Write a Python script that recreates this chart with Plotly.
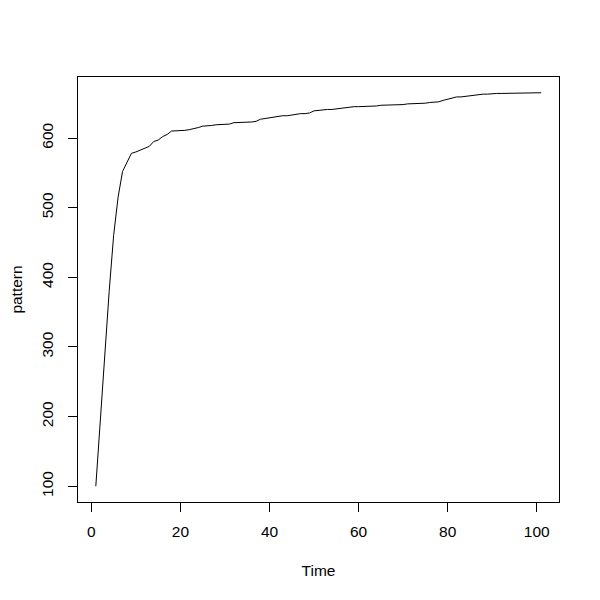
import plotly.graph_objects as go

time = list(range(1, 102))
pattern = [
    100, 195, 290, 380, 460, 515, 552, 566, 578, 580,
    583, 586, 588, 595, 597, 602, 605, 610, 610, 610,
    611, 612, 613, 615, 617, 617, 618, 619, 619, 620,
    620, 622, 622, 623, 623, 623, 624, 627, 628, 629,
    631, 632, 632, 632, 633, 635, 635, 635, 636, 639,
    640, 641, 641, 641, 642, 643, 644, 645, 645, 645,
    645, 645, 645, 646, 647, 647, 647, 647, 647, 648,
    649, 649, 649, 650, 650, 651, 651, 652, 654, 656,
    658, 659, 659, 660, 661, 662, 663, 663, 663, 664,
    664, 664, 664, 664, 664, 664, 665, 665, 665, 665,
    665,
]
x_ticks = [0, 20, 40, 60, 80, 100]
y_ticks = [100, 200, 300, 400, 500, 600]

xmin, xmax = min(time), max(time)
ymin, ymax = min(pattern), max(pattern)
xpad = (xmax - xmin) * 0.04
ypad = (ymax - ymin) * 0.04

fig = go.Figure(go.Scatter(x=time, y=pattern, mode="lines",
                           line=dict(color="black", width=1)))

font = dict(family="Liberation Sans, Arial, sans-serif", size=15.5, color="black")

fig.update_layout(
    width=600, height=600,
    margin=dict(l=70, r=49, t=69, b=106, autoexpand=False),
    paper_bgcolor="white", plot_bgcolor="white",
    showlegend=False,
    font=font,
    xaxis=dict(range=[xmin - xpad, xmax + xpad], tickvals=x_ticks,
               showgrid=False, zeroline=False, showline=True, mirror=True,
               linecolor="black", linewidth=1, ticks="outside", ticklen=9,
               tickcolor="black", tickwidth=1, ticklabelstandoff=6,
               automargin=False,
               title=dict(text="Time", standoff=26, font=font)),
    yaxis=dict(range=[ymin - ypad, ymax + ypad], tickvals=y_ticks,
               showgrid=False, zeroline=False, showline=True, mirror=True,
               linecolor="black", linewidth=1, ticks="outside", ticklen=9,
               tickcolor="black", tickwidth=1, tickangle=-90, ticklabelstandoff=9,
               automargin=False,
               title=dict(text="pattern", standoff=20, font=font)),
)

fig.write_html("out.html")
